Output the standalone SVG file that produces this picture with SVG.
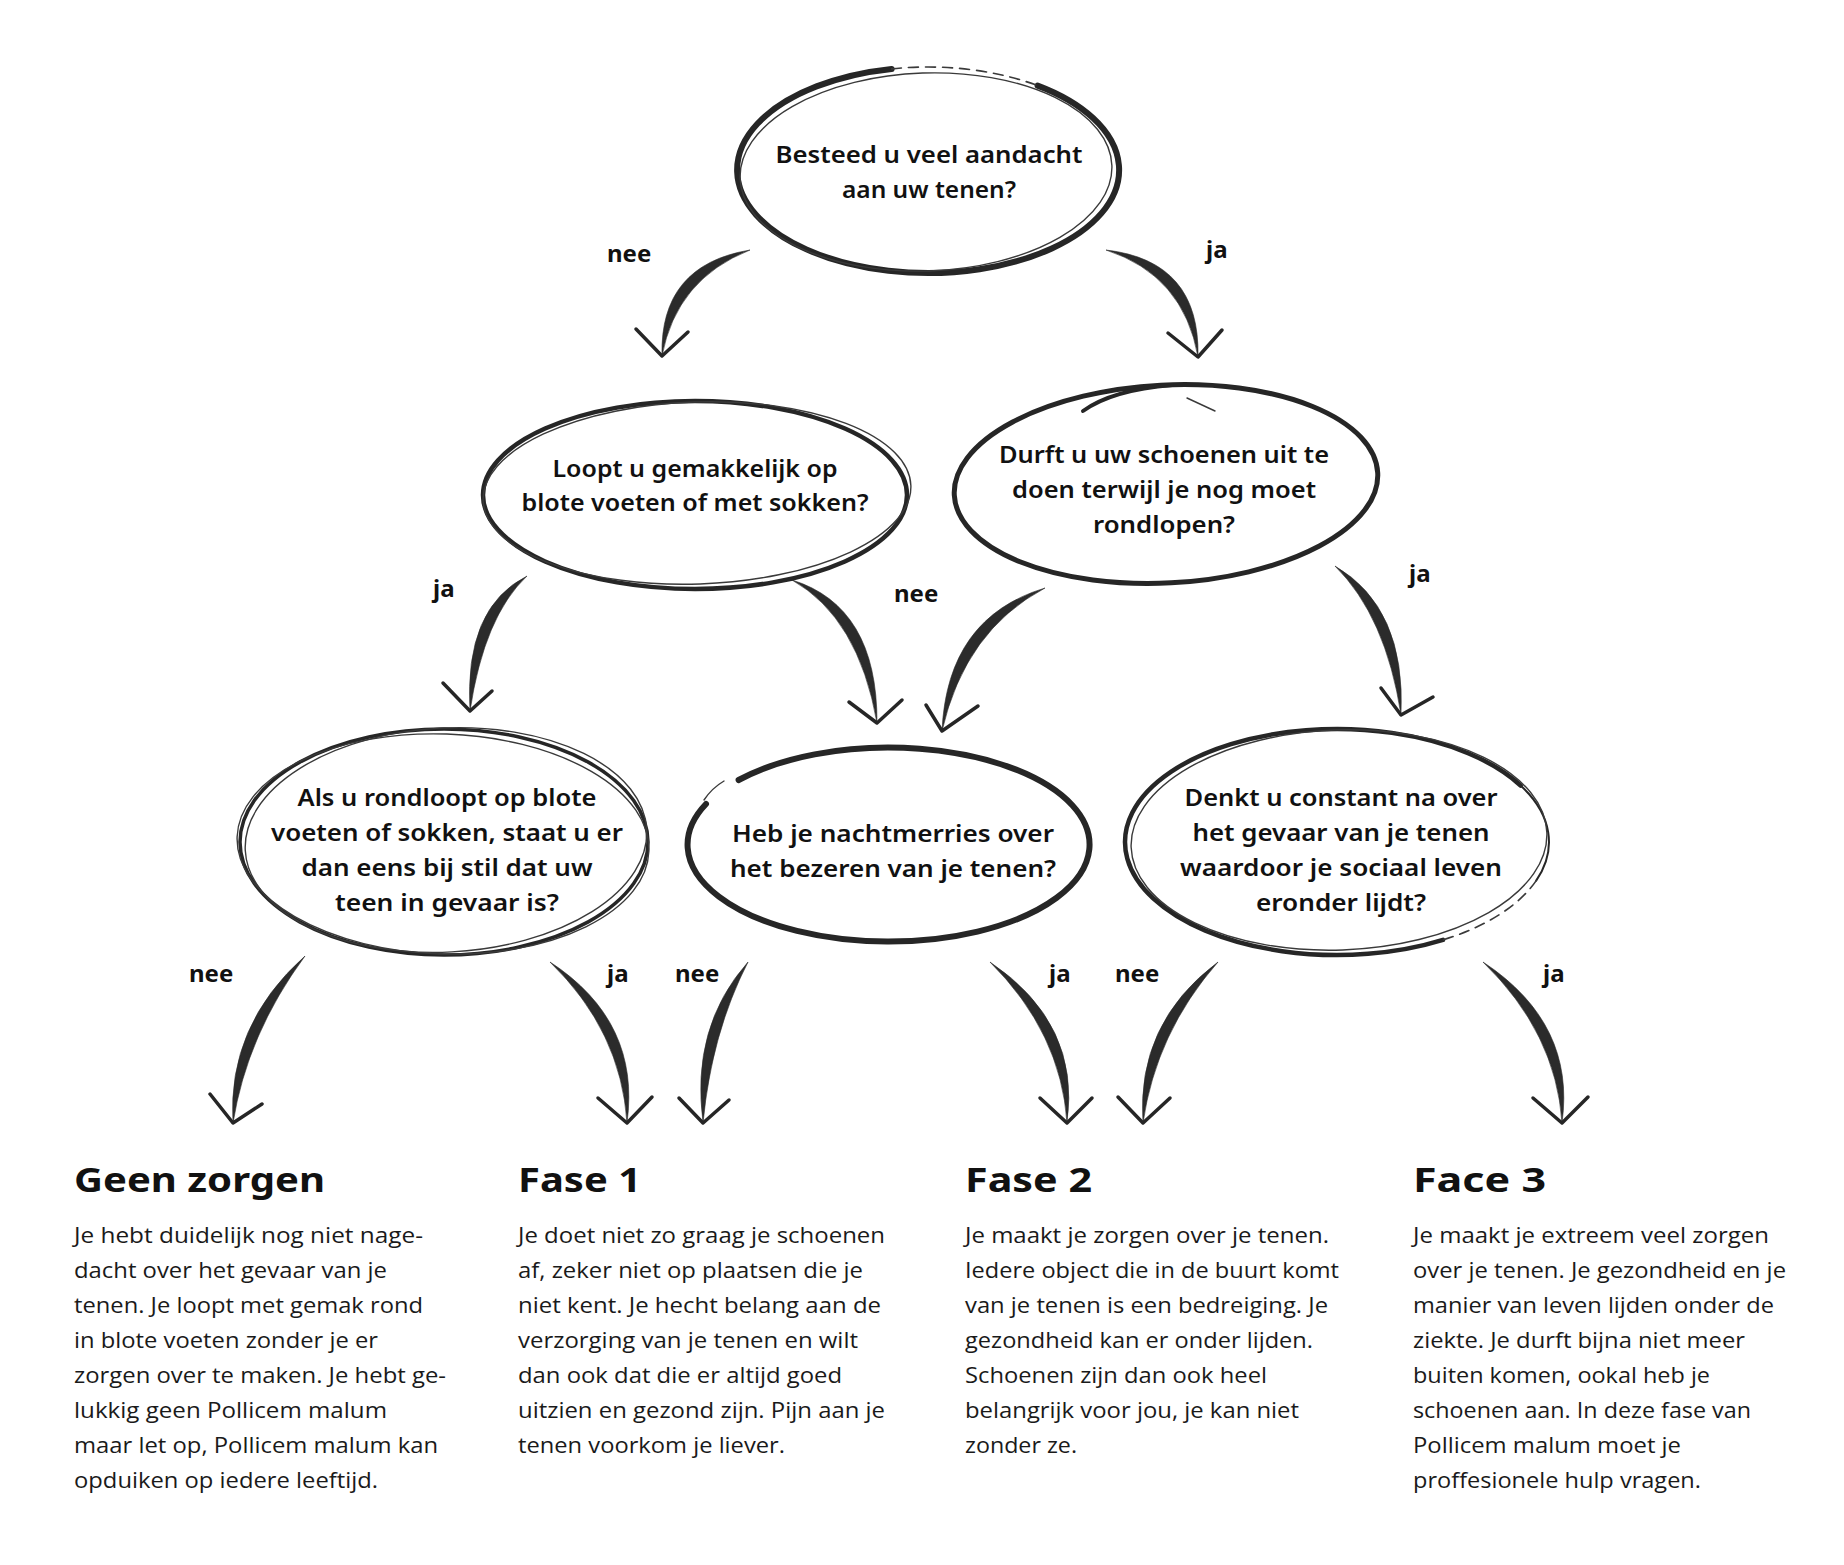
<svg xmlns="http://www.w3.org/2000/svg" width="1844" height="1565" viewBox="0 0 1844 1565">
<style>
.bg{fill:#ffffff}
.brush{fill:none;stroke:#262626;stroke-linecap:round}
.thin{fill:none;stroke:#3a3a3a;stroke-width:1.4;stroke-linecap:round}
.dash{fill:none;stroke:#3a3a3a;stroke-width:1.6;stroke-dasharray:10 7;stroke-linecap:round}
.shaft{fill:#2b2b2b;stroke:#2b2b2b;stroke-width:0.6;stroke-linejoin:round}
.head{fill:none;stroke:#262626;stroke-width:3.5;stroke-linecap:round;stroke-linejoin:round}
.q{font-family:"Noto Sans","DejaVu Sans",sans-serif;font-weight:600;font-size:23px;fill:#111111;text-anchor:middle}
.lbl{font-family:"Noto Sans","DejaVu Sans",sans-serif;font-weight:700;font-size:24px;fill:#111111}
.h{font-family:"Noto Sans","DejaVu Sans",sans-serif;font-weight:700;font-size:34px;fill:#111111}
.b{font-family:"Open Sans","Noto Sans",sans-serif;font-size:22px;fill:#1a1a1a}
</style>
<rect class="bg" x="0" y="0" width="1844" height="1565"/>

<g id="connectors">
  <path class="shaft" d="M750,250 Q659.5,265 662,356 Q676.5,279 750,250 Z"/>
  <polyline class="head" points="636,329 662,356 688,332"/>
  <path class="shaft" d="M1106,250 Q1183.65,275.18 1198,357 Q1200.35,260.82 1106,250 Z"/>
  <polyline class="head" points="1168,333 1198,357 1222,330"/>
  <path class="shaft" d="M527,576 Q463.87,607.72 470,711 Q484.13,616.28 527,576 Z"/>
  <polyline class="head" points="443,683 470,711 492,691"/>
  <path class="shaft" d="M792,580 Q858.55,617.62 877,723 Q877.45,606.38 792,580 Z"/>
  <polyline class="head" points="849,702 877,723 902,700"/>
  <path class="shaft" d="M1045,588 Q947.07,617.56 942,731 Q964.93,630.44 1045,588 Z"/>
  <polyline class="head" points="926,705 942,731 978,706"/>
  <path class="shaft" d="M1335,566 Q1385.95,616.46 1401,715 Q1406.05,607.54 1335,566 Z"/>
  <polyline class="head" points="1381,688 1401,715 1433,697"/>
  <path class="shaft" d="M305,956 Q226.9,1025.64 233,1123 Q247.1,1034.36 305,956 Z"/>
  <polyline class="head" points="210,1094 233,1123 262,1104"/>
  <path class="shaft" d="M550,962 Q621.08,1030.74 627,1123 Q640.92,1021.26 550,962 Z"/>
  <polyline class="head" points="598,1098 627,1123 652,1097"/>
  <path class="shaft" d="M748,962 Q690.41,1027.04 703,1123 Q711.59,1032.96 748,962 Z"/>
  <polyline class="head" points="679,1098 703,1123 729,1100"/>
  <path class="shaft" d="M990,962 Q1061.08,1032.74 1067,1123 Q1080.92,1023.26 990,962 Z"/>
  <polyline class="head" points="1040,1098 1067,1123 1092,1098"/>
  <path class="shaft" d="M1218,962 Q1136.02,1023.36 1143,1123 Q1155.98,1032.64 1218,962 Z"/>
  <polyline class="head" points="1118,1097 1143,1123 1170,1098"/>
  <path class="shaft" d="M1483,962 Q1556.12,1032.85 1562,1123 Q1575.88,1023.15 1483,962 Z"/>
  <polyline class="head" points="1533,1098 1562,1123 1588,1097"/>

  <text class="lbl" x="607" y="262">nee</text>
  <text class="lbl" x="1206" y="258">ja</text>
  <text class="lbl" x="433" y="597">ja</text>
  <text class="lbl" x="894" y="602">nee</text>
  <text class="lbl" x="1409" y="582">ja</text>
  <text class="lbl" x="189" y="982">nee</text>
  <text class="lbl" x="607" y="982">ja</text>
  <text class="lbl" x="675" y="982">nee</text>
  <text class="lbl" x="1049" y="982">ja</text>
  <text class="lbl" x="1115" y="982">nee</text>
  <text class="lbl" x="1543" y="982">ja</text>
</g>

<g id="node-q1">
  <path class="brush" stroke-width="6" d="M1037.6,85.6 A191 103 0 1 1 891.6,68.9"/>
  <path class="dash" d="M891.6,68.9 A191 103 0 0 1 1037.6,85.6"/>
  <ellipse class="thin" cx="926" cy="172" rx="186" ry="99" transform="rotate(-2 926 172)"/>
  <text class="q" x="929" y="163" textLength="307" lengthAdjust="spacingAndGlyphs">Besteed u veel aandacht</text>
  <text class="q" x="929" y="198" textLength="174" lengthAdjust="spacingAndGlyphs">aan uw tenen?</text>
</g>

<g id="node-q2">
  <ellipse class="brush" stroke-width="4.5" cx="695" cy="495" rx="212" ry="94"/>
  <ellipse class="thin" cx="697" cy="493" rx="214" ry="91" transform="rotate(-2 697 493)"/>
  <text class="q" x="695" y="477" textLength="285" lengthAdjust="spacingAndGlyphs">Loopt u gemakkelijk op</text>
  <text class="q" x="695" y="511" textLength="347" lengthAdjust="spacingAndGlyphs">blote voeten of met sokken?</text>
</g>

<g id="node-q3">
  <ellipse class="brush" stroke-width="5" cx="1166" cy="484" rx="212" ry="99" transform="rotate(-3 1166 484)"/>
  <path class="brush" stroke-width="4" d="M1083,411 Q1112,390 1172,385"/>
  <path class="thin" d="M1187,398 L1215,411"/>
  <text class="q" x="1164" y="463" textLength="330" lengthAdjust="spacingAndGlyphs">Durft u uw schoenen uit te</text>
  <text class="q" x="1164" y="498" textLength="304" lengthAdjust="spacingAndGlyphs">doen terwijl je nog moet</text>
  <text class="q" x="1164" y="533" textLength="142" lengthAdjust="spacingAndGlyphs">rondlopen?</text>
</g>

<g id="node-q4">
  <ellipse class="brush" stroke-width="3.5" cx="444" cy="842" rx="204" ry="113"/>
  <ellipse class="thin" stroke-width="2" cx="446" cy="840" rx="201" ry="112" transform="rotate(-3 446 840)"/>
  <ellipse class="thin" cx="443" cy="844" rx="206" ry="110" transform="rotate(2 443 844)"/>
  <text class="q" x="447" y="806" textLength="299" lengthAdjust="spacingAndGlyphs">Als u rondloopt op blote</text>
  <text class="q" x="447" y="841" textLength="352" lengthAdjust="spacingAndGlyphs">voeten of sokken, staat u er</text>
  <text class="q" x="447" y="876" textLength="291" lengthAdjust="spacingAndGlyphs">dan eens bij stil dat uw</text>
  <text class="q" x="447" y="911" textLength="224" lengthAdjust="spacingAndGlyphs">teen in gevaar is?</text>
</g>

<g id="node-q5">
  <path class="brush" stroke-width="6" d="M738.6,780 A201 97 0 1 1 706,804"/>
  <path class="thin" d="M704,800 Q712,788 724,781"/>
  <text class="q" x="893" y="842" textLength="322" lengthAdjust="spacingAndGlyphs">Heb je nachtmerries over</text>
  <text class="q" x="893" y="877" textLength="326" lengthAdjust="spacingAndGlyphs">het bezeren van je tenen?</text>
</g>

<g id="node-q6">
  <path class="brush" stroke-width="4.5" d="M1443,939.9 A212 113 0 1 1 1520.6,785.5"/>
  <path class="brush" stroke-width="2" d="M1520.6,785.5 A212 113 0 0 1 1536.2,880.6"/>
  <path class="dash" d="M1536.2,880.6 A212 113 0 0 1 1443,939.9"/>
  <ellipse class="thin" cx="1339" cy="840" rx="208" ry="110" transform="rotate(-2 1339 840)"/>
  <text class="q" x="1341" y="806" textLength="313" lengthAdjust="spacingAndGlyphs">Denkt u constant na over</text>
  <text class="q" x="1341" y="841" textLength="297" lengthAdjust="spacingAndGlyphs">het gevaar van je tenen</text>
  <text class="q" x="1341" y="876" textLength="322" lengthAdjust="spacingAndGlyphs">waardoor je sociaal leven</text>
  <text class="q" x="1341" y="911" textLength="170" lengthAdjust="spacingAndGlyphs">eronder lijdt?</text>
</g>

<g id="result-geen-zorgen">
  <text class="h" x="74" y="1192" textLength="251" lengthAdjust="spacingAndGlyphs">Geen zorgen</text>
  <text class="b" x="74" y="1243" textLength="349" lengthAdjust="spacingAndGlyphs">Je hebt duidelijk nog niet nage-</text>
  <text class="b" x="74" y="1278" textLength="313" lengthAdjust="spacingAndGlyphs">dacht over het gevaar van je</text>
  <text class="b" x="74" y="1313" textLength="349" lengthAdjust="spacingAndGlyphs">tenen. Je loopt met gemak rond</text>
  <text class="b" x="74" y="1348" textLength="304" lengthAdjust="spacingAndGlyphs">in blote voeten zonder je er</text>
  <text class="b" x="74" y="1383" textLength="372" lengthAdjust="spacingAndGlyphs">zorgen over te maken. Je hebt ge-</text>
  <text class="b" x="74" y="1418" textLength="313" lengthAdjust="spacingAndGlyphs">lukkig geen Pollicem malum</text>
  <text class="b" x="74" y="1453" textLength="364" lengthAdjust="spacingAndGlyphs">maar let op, Pollicem malum kan</text>
  <text class="b" x="74" y="1488" textLength="304" lengthAdjust="spacingAndGlyphs">opduiken op iedere leeftijd.</text>
</g>

<g id="result-fase-1">
  <text class="h" x="518" y="1192" textLength="123" lengthAdjust="spacingAndGlyphs">Fase 1</text>
  <text class="b" x="518" y="1243" textLength="367" lengthAdjust="spacingAndGlyphs">Je doet niet zo graag je schoenen</text>
  <text class="b" x="518" y="1278" textLength="345" lengthAdjust="spacingAndGlyphs">af, zeker niet op plaatsen die je</text>
  <text class="b" x="518" y="1313" textLength="363" lengthAdjust="spacingAndGlyphs">niet kent. Je hecht belang aan de</text>
  <text class="b" x="518" y="1348" textLength="340" lengthAdjust="spacingAndGlyphs">verzorging van je tenen en wilt</text>
  <text class="b" x="518" y="1383" textLength="324" lengthAdjust="spacingAndGlyphs">dan ook dat die er altijd goed</text>
  <text class="b" x="518" y="1418" textLength="367" lengthAdjust="spacingAndGlyphs">uitzien en gezond zijn. Pijn aan je</text>
  <text class="b" x="518" y="1453" textLength="267" lengthAdjust="spacingAndGlyphs">tenen voorkom je liever.</text>
</g>

<g id="result-fase-2">
  <text class="h" x="965" y="1192" textLength="127" lengthAdjust="spacingAndGlyphs">Fase 2</text>
  <text class="b" x="965" y="1243" textLength="364" lengthAdjust="spacingAndGlyphs">Je maakt je zorgen over je tenen.</text>
  <text class="b" x="965" y="1278" textLength="374" lengthAdjust="spacingAndGlyphs">Iedere object die in de buurt komt</text>
  <text class="b" x="965" y="1313" textLength="363" lengthAdjust="spacingAndGlyphs">van je tenen is een bedreiging. Je</text>
  <text class="b" x="965" y="1348" textLength="348" lengthAdjust="spacingAndGlyphs">gezondheid kan er onder lijden.</text>
  <text class="b" x="965" y="1383" textLength="302" lengthAdjust="spacingAndGlyphs">Schoenen zijn dan ook heel</text>
  <text class="b" x="965" y="1418" textLength="334" lengthAdjust="spacingAndGlyphs">belangrijk voor jou, je kan niet</text>
  <text class="b" x="965" y="1453" textLength="112" lengthAdjust="spacingAndGlyphs">zonder ze.</text>
</g>

<g id="result-face-3">
  <text class="h" x="1413" y="1192" textLength="133" lengthAdjust="spacingAndGlyphs">Face 3</text>
  <text class="b" x="1413" y="1243" textLength="356" lengthAdjust="spacingAndGlyphs">Je maakt je extreem veel zorgen</text>
  <text class="b" x="1413" y="1278" textLength="373" lengthAdjust="spacingAndGlyphs">over je tenen. Je gezondheid en je</text>
  <text class="b" x="1413" y="1313" textLength="361" lengthAdjust="spacingAndGlyphs">manier van leven lijden onder de</text>
  <text class="b" x="1413" y="1348" textLength="332" lengthAdjust="spacingAndGlyphs">ziekte. Je durft bijna niet meer</text>
  <text class="b" x="1413" y="1383" textLength="297" lengthAdjust="spacingAndGlyphs">buiten komen, ookal heb je</text>
  <text class="b" x="1413" y="1418" textLength="338" lengthAdjust="spacingAndGlyphs">schoenen aan. In deze fase van</text>
  <text class="b" x="1413" y="1453" textLength="268" lengthAdjust="spacingAndGlyphs">Pollicem malum moet je</text>
  <text class="b" x="1413" y="1488" textLength="288" lengthAdjust="spacingAndGlyphs">proffesionele hulp vragen.</text>
</g>
</svg>
